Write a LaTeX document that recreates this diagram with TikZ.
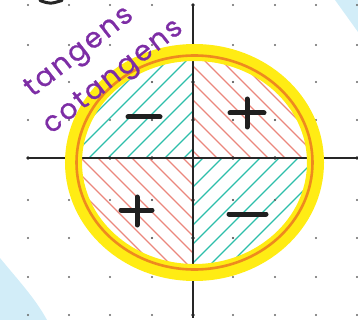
\documentclass[tikz,border=0pt]{standalone}
\usepackage{fontspec}
\setmainfont{Poppins}
\newfontfamily\handfont[LetterSpace=8,FakeBold=0.8]{Poppins}
\definecolor{skyb}{RGB}{210,237,248}
\definecolor{hlyellow}{RGB}{255,236,20}
\definecolor{penorange}{RGB}{238,138,30}
\definecolor{tealhatch}{RGB}{45,190,170}
\definecolor{redhatch}{RGB}{235,135,125}
\definecolor{penpurple}{RGB}{125,45,165}
\begin{document}
\begin{tikzpicture}[x=1pt,y=-1pt,
  griddot/.style={fill=black!60},
  tickdot/.style={fill=black!85},
  axisline/.style={draw=black!85,line width=1.3pt},
  teal hatch/.style={draw=tealhatch,line width=1.4pt},
  red hatch/.style={draw=redhatch,line width=1.1pt},
  signstroke/.style={draw=black!88,line width=5pt,line cap=round},
  wordlabel/.style={text=penpurple,font=\handfont\fontsize{28}{28}\selectfont,inner sep=0pt,rotate=38}]
\useasboundingbox (0,0) rectangle (358,320);
% background blue pieces
\fill[skyb] (335,0) -- (358,0) -- (358,32) -- cycle;
\fill[skyb] (0,258) .. controls (18,280) and (35,298) .. (47,320) -- (0,320) -- cycle;
% grid dots
\foreach \x in {28,69,110,152,233,275,316,357}
  \foreach \y in {5,45,82,120,200,238,277,315}
    \fill[griddot] (\x,\y) circle[radius=1.1pt];
% hatching
\begin{scope}
  \clip (194.5,162.5) ellipse [x radius=118pt, y radius=107pt];
  \begin{scope}
    \clip (0,0) rectangle (193,158);
    \foreach \c in {0,19,...,600} \draw[teal hatch] (\c,0) -- (\c-400,400);
  \end{scope}
  \begin{scope}
    \clip (358,320) rectangle (193,158);
    \foreach \c in {0,19,...,800} \draw[teal hatch] (\c,0) -- (\c-400,400);
  \end{scope}
  \begin{scope}
    \clip (193,0) rectangle (358,158);
    \foreach \c in {-400,-383,...,400} \draw[red hatch] (\c,0) -- (\c+400,400);
  \end{scope}
  \begin{scope}
    \clip (0,158) rectangle (193,320);
    \foreach \c in {-400,-383,...,400} \draw[red hatch] (\c,0) -- (\c+400,400);
  \end{scope}
  \foreach \x in {152,233,275}
    \foreach \y in {82,120,200,238}
      \fill[griddot] (\x,\y) circle[radius=1.1pt];
\end{scope}
% axes
\coordinate (ytop) at (193,4);
\coordinate (ybot) at (193,318);
\coordinate (xleft) at (28,158);
\coordinate (xright) at (358,158);
\draw[axisline] (ytop) -- (ybot);
\draw[axisline] (xleft) -- (xright);
\foreach \x in {28,69,110,152,233,275,316,357}
  \fill[tickdot] (\x,158) circle[radius=1.8pt];
\foreach \y in {5,45,82,120,200,238,277,315}
  \fill[tickdot] (193,\y) circle[radius=1.8pt];
% circle
\draw[hlyellow,line width=17pt] (194.5,162.5) ellipse [x radius=121pt, y radius=110pt];
\draw[penorange,line width=2.6pt] (194.5,162.5) ellipse [x radius=118pt, y radius=107pt];
% signs
\draw[signstroke] (128,117) -- (160,117);
\draw[signstroke] (230,113) -- (264,113);
\draw[signstroke] (247,99) -- (247,127);
\draw[signstroke] (121,210) -- (152,210);
\draw[signstroke] (137,197) -- (137,225);
\draw[signstroke] (229,214) -- (266,214);
% labels
\node[wordlabel] (tan) at (80,53) {tangens};
\node[wordlabel] (cot) at (114,78) {cotangens};
% cut-off mark at top
\draw[black!85,line width=3pt,line cap=round] (40,0.5) .. controls (50,4) .. (62,0.5);
\end{tikzpicture}
\end{document}
